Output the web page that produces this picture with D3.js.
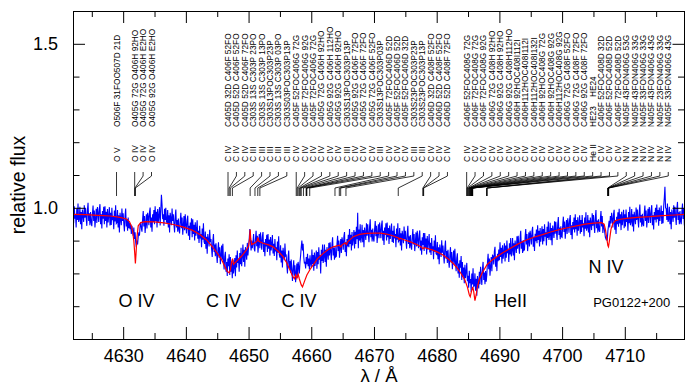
<!DOCTYPE html>
<html>
<head>
<meta charset="utf-8">
<script src="https://d3js.org/d3.v7.min.js"></script>
<style>
  body { margin: 0; background: #fff; }
  svg { display: block; font-family: "Liberation Sans", Arial, Helvetica, sans-serif; }
</style>
</head>
<body>
<script>
// observed spectrum: flux in units of 1/1000, first point at obsStart, one point every obsStep A
const obsStart = 4622.0, obsStep = 0.1;
const obsFlux = [
  990,953,1005,967,980,940,997,963,1013,957,   // 4622
  965,1003,950,987,935,995,977,957,1008,970,   // 4623
  1000,970,945,993,1015,960,983,947,987,955,   // 4624
  944,982,1007,960,992,940,967,997,954,1002,   // 4625
  983,957,997,1011,950,980,937,990,967,1003,   // 4626
  950,1005,960,988,940,996,955,975,1002,946,   // 4627
  985,948,1000,962,975,935,992,958,1008,952,   // 4628
  955,993,940,977,925,985,967,947,998,960,     // 4629
  983,953,928,976,998,943,966,930,970,938,     // 4630
  955,935,950,920,945,930,915,940,905,925,     // 4631
  895,880,900,888,912,925,915,945,955,938,     // 4632
  927,965,990,943,975,923,950,980,937,985,     // 4633
  973,947,987,1001,940,970,927,980,957,993,    // 4634
  950,1005,960,988,940,996,955,975,1002,946,   // 4635
  990,1040,1010,965,980,945,997,963,1000,957,  // 4636
  955,993,940,977,925,985,967,947,998,960,     // 4637
  980,950,925,973,995,940,963,927,967,935,     // 4638
  922,960,985,938,970,918,945,975,932,980,     // 4639
  948,922,962,976,915,945,902,955,932,968,     // 4640
  910,965,920,948,900,956,915,935,962,906,     // 4641
  930,893,945,907,920,880,937,903,953,897,     // 4642
  890,928,875,912,860,920,902,882,933,895,     // 4643
  905,875,850,898,920,865,888,852,892,860,     // 4644
  832,870,895,848,880,828,855,885,842,890,     // 4645
  838,812,852,866,805,835,792,845,822,858,     // 4646
  795,850,805,833,785,841,800,820,847,791,     // 4647
  855,818,870,832,845,805,862,828,878,822,     // 4648
  850,888,835,872,820,880,862,842,893,855,     // 4649
  880,905,935,898,870,900,877,893,920,875,     // 4650
  867,905,930,883,915,863,890,920,877,925,     // 4651
  898,872,912,926,865,895,852,905,882,918,     // 4652
  865,920,875,903,855,911,870,890,917,861,     // 4653
  890,853,905,867,880,840,897,863,913,857,     // 4654
  848,886,833,870,818,878,860,840,891,853,     // 4655
  855,825,800,848,870,815,838,802,842,810,     // 4656
  777,815,840,793,825,773,800,830,787,835,     // 4657
  820,800,835,855,880,900,870,890,850,830,     // 4658
  835,815,850,828,860,822,845,812,855,830,     // 4659
  818,873,828,856,808,864,823,843,870,814,     // 4660
  865,828,880,842,855,800,872,838,888,832,     // 4661
  850,888,835,872,820,880,862,842,893,855,     // 4662
  895,865,840,888,910,855,878,842,882,850,     // 4663
  852,890,915,868,900,848,875,905,862,910,     // 4664
  898,872,912,926,865,895,852,905,882,918,     // 4665
  880,935,890,918,870,926,885,905,932,876,     // 4666
  927,890,942,904,985,877,934,900,950,894,     // 4667
  910,948,895,932,880,940,922,902,953,915,     // 4668
  950,920,895,943,965,910,933,897,937,905,     // 4669
  897,935,960,913,945,893,920,950,907,955,     // 4670
  933,907,947,961,900,930,887,940,917,953,     // 4671
  900,955,910,938,890,946,905,925,952,896,     // 4672
  930,893,945,907,920,880,937,903,953,897,     // 4673
  900,938,885,922,870,930,912,892,943,905,     // 4674
  930,900,875,923,945,890,913,877,917,885,     // 4675
  872,910,935,888,920,868,895,925,882,930,     // 4676
  903,877,917,931,870,900,857,910,887,923,     // 4677
  868,923,878,906,858,914,873,893,920,864,     // 4678
  893,856,908,870,883,843,900,866,916,860,     // 4679
  858,896,843,880,828,888,870,850,901,863,     // 4680
  885,855,830,878,900,845,868,832,872,840,     // 4681
  817,855,880,833,865,813,840,870,827,875,     // 4682
  833,807,847,861,800,830,787,840,817,853,     // 4683
  780,835,790,818,770,826,785,805,832,776,     // 4684
  793,756,808,770,783,743,800,766,816,760,     // 4685
  762,800,747,784,732,792,774,754,805,767,     // 4686
  820,790,765,813,835,780,803,767,807,775,     // 4687
  797,835,860,813,845,793,820,850,807,855,     // 4688
  853,827,867,881,820,850,807,860,837,873,     // 4689
  840,895,850,878,830,886,845,865,892,836,     // 4690
  885,848,900,862,875,835,892,858,908,852,     // 4691
  870,908,855,892,840,900,882,862,913,875,     // 4692
  915,885,860,908,930,875,898,862,902,870,     // 4693
  872,910,935,888,920,868,895,925,882,930,     // 4694
  914,888,928,942,881,911,868,921,898,934,     // 4695
  892,947,902,930,882,938,897,917,944,888,     // 4696
  935,898,950,912,925,885,942,908,958,902,     // 4697
  916,954,901,938,886,946,928,908,959,921,     // 4698
  957,927,902,950,972,917,940,904,944,912,     // 4699
  910,948,973,926,958,906,933,963,920,968,     // 4700
  950,924,964,978,917,947,904,957,934,970,     // 4701
  925,980,935,963,915,971,930,950,977,921,     // 4702
  963,926,978,940,953,913,970,936,986,930,     // 4703
  940,978,925,962,910,970,952,932,983,945,     // 4704
  978,948,923,971,993,938,961,925,965,933,     // 4705
  927,965,990,943,975,923,950,940,925,910,     // 4706
  905,915,900,930,945,960,940,975,952,985,     // 4707
  966,940,980,994,933,963,920,973,950,986,     // 4708
  942,997,952,980,932,988,947,967,994,938,     // 4709
  980,943,995,957,970,930,987,953,1003,947,    // 4710
  958,996,943,980,928,988,970,950,1001,963,    // 4711
  995,965,940,988,1010,955,978,942,982,950,    // 4712
  944,982,1007,960,992,940,967,997,954,1002,   // 4713
  980,954,994,1008,947,977,934,987,964,1000,   // 4714
  955,1010,965,993,945,1001,960,980,1007,951,  // 4715
  990,953,1005,1030,1064,1000,997,963,1013,957,// 4716
  965,1003,950,987,935,995,977,957,1008,970,   // 4717
  1003,973,948,996,1018,963,986,950,990,958,   // 4718
  950,988,1013,966,998,946                     // 4719
];

// model spectrum
const modelWave = [
  4622.0, 4624.0, 4626.0, 4628.0, 4629.5, 4630.5, 4631.0, 4631.3, 4631.5, 4631.7,
  4631.85, 4631.95, 4632.05, 4632.2, 4632.4, 4632.8, 4633.5, 4635.0, 4636.5, 4638.0,
  4639.5, 4641.0, 4642.3, 4643.3, 4644.2, 4645.0, 4645.7, 4646.2, 4646.6, 4646.9,
  4647.1, 4647.3, 4647.45, 4647.6, 4648.0, 4648.9, 4649.6, 4650.0, 4650.15, 4650.25,
  4650.35, 4650.5, 4651.0, 4651.35, 4651.5, 4651.65, 4652.3, 4653.2, 4653.9, 4654.8,
  4655.5, 4656.1, 4656.6, 4657.0, 4657.3, 4657.5, 4657.7, 4657.9, 4658.1, 4658.4,
  4658.6, 4658.9, 4659.3, 4659.8, 4660.3, 4661.0, 4661.9, 4662.7, 4663.5, 4664.5,
  4664.7, 4664.9, 4665.4, 4665.6, 4665.8, 4666.7, 4667.7, 4668.8, 4670.0, 4671.0,
  4672.0, 4673.1, 4673.9, 4674.0, 4674.15, 4675.0, 4675.7, 4676.8, 4677.6, 4677.8,
  4678.0, 4679.4, 4680.2, 4681.0, 4681.8, 4682.6, 4683.2, 4683.7, 4684.1, 4684.5,
  4684.9, 4685.2, 4685.35, 4685.55, 4685.75, 4685.9, 4686.1, 4686.3, 4686.5, 4686.8,
  4687.2, 4688.0, 4688.8, 4689.6, 4690.6, 4691.7, 4693.0, 4694.3, 4695.6, 4697.0,
  4698.3, 4699.7, 4701.0, 4702.3, 4703.7, 4705.0, 4706.3, 4706.7, 4706.9, 4707.1,
  4707.3, 4707.4, 4707.55, 4707.8, 4708.1, 4708.5, 4709.3, 4710.3, 4712.0, 4714.0,
  4716.0, 4718.0, 4719.6
];
const modelFlux = [
  0.980, 0.979, 0.977, 0.975, 0.971, 0.966, 0.958, 0.945, 0.930, 0.900,
  0.860, 0.830, 0.860, 0.910, 0.945, 0.955, 0.958, 0.957, 0.954, 0.949,
  0.942, 0.932, 0.918, 0.902, 0.882, 0.862, 0.842, 0.822, 0.806, 0.802,
  0.810, 0.835, 0.845, 0.828, 0.835, 0.853, 0.870, 0.883, 0.905, 0.934,
  0.905, 0.888, 0.893, 0.898, 0.910, 0.898, 0.892, 0.887, 0.881, 0.866,
  0.851, 0.832, 0.810, 0.792, 0.784, 0.795, 0.785, 0.798, 0.783, 0.765,
  0.759, 0.775, 0.795, 0.812, 0.826, 0.845, 0.861, 0.873, 0.881, 0.886,
  0.881, 0.887, 0.893, 0.888, 0.896, 0.912, 0.919, 0.922, 0.923, 0.923,
  0.920, 0.914, 0.908, 0.903, 0.907, 0.901, 0.897, 0.888, 0.880, 0.875,
  0.879, 0.871, 0.864, 0.856, 0.845, 0.831, 0.818, 0.805, 0.793, 0.780,
  0.758, 0.735, 0.729, 0.745, 0.759, 0.745, 0.717, 0.735, 0.760, 0.782,
  0.800, 0.826, 0.840, 0.851, 0.864, 0.876, 0.890, 0.902, 0.911, 0.919,
  0.927, 0.934, 0.940, 0.945, 0.950, 0.953, 0.955, 0.950, 0.935, 0.910,
  0.885, 0.881, 0.900, 0.935, 0.952, 0.961, 0.965, 0.968, 0.971, 0.973,
  0.976, 0.978, 0.980
];

// line identifications
const lineWave = [
  4628.94, 4631.84, 4631.89, 4631.94,
  4646.72, 4646.90, 4647.08, 4647.42, 4650.25, 4651.02, 4651.47, 4651.80,
  4657.60, 4657.75, 4657.90, 4658.10, 4658.25, 4658.40, 4658.75,
  4659.18, 4659.24, 4659.30, 4659.75, 4663.78, 4664.47, 4664.69, 4665.53,
  4673.87, 4677.80, 4677.86, 4677.92,
  4684.78, 4684.86, 4684.94, 4685.10, 4685.16, 4685.22, 4685.34, 4685.40,
  4685.46, 4685.54, 4685.58, 4685.62, 4685.66, 4685.69, 4685.72, 4685.74,
  4687.96, 4688.00, 4688.04,
  4707.28, 4707.31, 4707.34, 4707.37, 4707.40, 4707.43
];
const lineIon = [
  "O V", "O IV", "O IV", "O IV",
  "C IV", "C IV", "C IV", "C III", "C III", "C III", "C III", "C III",
  "C IV", "C IV", "C IV", "C IV", "C IV", "C IV", "C III",
  "C IV", "C IV", "C IV", "C III", "C IV", "C IV", "C IV", "C III",
  "C III", "C IV", "C IV", "C IV",
  "C IV", "C IV", "C IV", "C IV", "C IV", "C IV", "C IV", "C IV",
  "C IV", "C IV", "C IV", "C IV", "C IV", "C IV", "C IV", "He II",
  "C IV", "C IV", "C IV",
  "N IV", "N IV", "N IV", "N IV", "N IV", "N IV"
];
const lineId = [
  "O506F 31FOO507D 21D", "O405G 72G O406H 92HO", "O405G 72G O406H E2HO", "O405G 92G O406H E2HO",
  "C405D 32D C406F 52FO", "C405D 52D C406F 52FO", "C405D 52D C406F 72FO",
  "C303S 13S C303P 23PO", "C303S 13S C303P 13PO", "C303S13POC303P23P",
  "C303S 13S C303P 03PO", "C303S03POC303P13P",
  "C405F 52FOC406G 72G", "C405F 72FOC406G 92G", "C405F 72FOC406G 72G",
  "C405G 72G C406H 92HO", "C405G 92G C406H 112HO", "C405G 92G C406H 92HO",
  "C303S13POC303P13P",
  "C405G 92G C406F 72FO", "C405G 72G C406F 72FO", "C405G 72G C406F 52FO",
  "C303S13POC303P03P",
  "C405F 72FOC406D 52D", "C405F 52FOC406D 52D", "C405F 52FOC406D 32D",
  "C303S23POC303P23P", "C303S23POC303P13P",
  "C406D 32D C408F 52FO", "C406D 52D C408F 52FO", "C406D 52D C408F 72FO",
  "C406F 52FOC408G 72G", "C406F 72FOC408G 72G", "C406F 72FOC408G 92G",
  "C406G 72G C408H 92HO", "C406G 92G C408H 92HO", "C406G 92G C408H112HO",
  "C406H 92HOC408I112I", "C406H112HOC408I112I", "C406H112HOC408I132I",
  "C406H 92HOC408G 72G", "C406H 92HOC408G 92G", "C406H112HOC408G 92G",
  "C406G 72G C408F 52FO", "C406G 72G C408F 72FO", "C406G 92G C408F 72FO",
  "HE23    HE24",
  "C406F 52FOC408D 32D", "C406F 52FOC408D 52D", "C406F 72FOC408D 52D",
  "N405F 43FON406G 53G", "N405F 43FON406G 33G", "N405F 33FON406G 33G",
  "N405F 43FON406G 43G", "N405F 23FON406G 33G", "N405F 33FON406G 43G"
];

// text placed inside the plot
const noteText = ["O IV", "C IV", "C IV", "HeII", "N IV"];
const noteWave = [4632.13, 4646.0, 4658.04, 4691.77, 4707.0];
const noteFlux = [0.698, 0.698, 0.698, 0.698, 0.800];
const starName = "PG0122+200", starWave = 4711.1, starFlux = 0.698;

// axis ticks
const xMajor = [4630, 4640, 4650, 4660, 4670, 4680, 4690, 4700, 4710];
const xMinor = [4625, 4635, 4645, 4655, 4665, 4675, 4685, 4695, 4705, 4715];
const yMajor = [1.0, 1.5];
const yMinor = [0.7, 0.8, 0.9, 1.1, 1.2, 1.3, 1.4];

const width = 685, height = 387;
const plotL = 73, plotR = 685, plotT = 11, plotB = 339;

const x = d3.scaleLinear().domain([4622, 4719.6]).range([plotL, plotR]);
const y = d3.scaleLinear().domain([0.6, 1.6]).range([plotB, plotT]);

const svg = d3.select("body").append("svg")
    .attr("width", width)
    .attr("height", height);

svg.append("clipPath").attr("id", "plot")
  .append("rect")
    .attr("x", plotL).attr("y", plotT)
    .attr("width", plotR - plotL).attr("height", plotB - plotT);

// spectra
const obs = obsFlux.map((v, i) => [obsStart + i * obsStep, v / 1000]);
const model = modelWave.map((w, i) => [w, modelFlux[i]]);

const line = d3.line()
    .x(d => x(d[0]))
    .y(d => y(d[1]));

svg.append("path")
    .datum(obs)
    .attr("clip-path", "url(#plot)")
    .attr("fill", "none")
    .attr("stroke", "#0000ff")
    .attr("stroke-width", 1.1)
    .attr("d", line);

svg.append("path")
    .datum(model)
    .attr("clip-path", "url(#plot)")
    .attr("fill", "none")
    .attr("stroke", "#ff0000")
    .attr("stroke-width", 1.2)
    .attr("d", line);

// axes, ticks pointing inwards
function styleAxis(g) {
  g.select(".domain").remove();
  g.attr("font-family", null).attr("font-size", 18);
  g.selectAll("text").attr("fill", "#000");
}

svg.append("g")
    .attr("transform", `translate(0,${plotB})`)
    .call(d3.axisBottom(x).tickValues(xMajor).tickSize(-12).tickPadding(10).tickFormat(d3.format("d")))
    .call(styleAxis);
svg.append("g")
    .attr("transform", `translate(0,${plotB})`)
    .call(d3.axisBottom(x).tickValues(xMinor).tickSize(-6).tickFormat(""))
    .call(styleAxis);
svg.append("g")
    .attr("transform", `translate(0,${plotT})`)
    .call(d3.axisTop(x).tickValues(xMajor).tickSize(-12).tickFormat(""))
    .call(styleAxis);
svg.append("g")
    .attr("transform", `translate(0,${plotT})`)
    .call(d3.axisTop(x).tickValues(xMinor).tickSize(-6).tickFormat(""))
    .call(styleAxis);

svg.append("g")
    .attr("transform", `translate(${plotL},0)`)
    .call(d3.axisLeft(y).tickValues(yMajor).tickSize(-12).tickPadding(15).tickFormat(d3.format(".1f")))
    .call(styleAxis);
svg.append("g")
    .attr("transform", `translate(${plotL},0)`)
    .call(d3.axisLeft(y).tickValues(yMinor).tickSize(-6.5).tickFormat(""))
    .call(styleAxis);
svg.append("g")
    .attr("transform", `translate(${plotR - 0.5},0)`)
    .call(d3.axisRight(y).tickValues(yMajor).tickSize(-12).tickFormat(""))
    .call(styleAxis);
svg.append("g")
    .attr("transform", `translate(${plotR - 0.5},0)`)
    .call(d3.axisRight(y).tickValues(yMinor).tickSize(-6.5).tickFormat(""))
    .call(styleAxis);

svg.append("rect")
    .attr("x", plotL + 0.5).attr("y", plotT + 0.5)
    .attr("width", plotR - plotL - 1).attr("height", plotB - plotT)
    .attr("fill", "none")
    .attr("stroke", "#000")
    .attr("stroke-width", 1);

// axis titles
svg.append("text")
    .attr("transform", `translate(25,${(plotT + plotB) / 2 + 10}) rotate(-90)`)
    .attr("text-anchor", "middle")
    .attr("font-size", 19.5)
    .text("relative flux");

svg.append("text")
    .attr("x", (plotL + plotR) / 2)
    .attr("y", 382)
    .attr("text-anchor", "middle")
    .attr("font-size", 18.5)
    .text("λ / Å");

// line identification marks: labels pushed to the right so they never overlap
const labelGap = 8.4;
const ids = [];
lineWave.forEach((w, i) => {
  const lx = x(w);
  const px = i === 0 ? lx : Math.max(lx, ids[i - 1].px + labelGap);
  ids.push({ lx: lx, px: px, ion: lineIon[i], id: lineId[i] });
});

const idG = svg.append("g");

idG.selectAll("path")
  .data(ids)
  .enter()
  .append("path")
    .attr("d", d => `M${d.px},172V176L${d.lx},188V196`)
    .attr("fill", "none")
    .attr("stroke", "#000")
    .attr("stroke-width", 0.8);

idG.selectAll("text.ion")
  .data(ids)
  .enter()
  .append("text")
    .attr("class", "ion")
    .attr("transform", d => `translate(${d.px + 3},162) rotate(-90)`)
    .attr("font-size", 8.5)
    .text(d => d.ion);

idG.selectAll("text.id")
  .data(ids)
  .enter()
  .append("text")
    .attr("class", "id")
    .attr("transform", d => `translate(${d.px + 3},127) rotate(-90)`)
    .attr("font-size", 8.3)
    .style("white-space", "pre")
    .text(d => d.id);

// labels inside the plot
svg.selectAll("text.note")
  .data(noteText)
  .enter()
  .append("text")
    .attr("class", "note")
    .attr("x", (d, i) => x(noteWave[i]))
    .attr("y", (d, i) => y(noteFlux[i]))
    .attr("text-anchor", "middle")
    .attr("font-size", 18)
    .text(d => d);

svg.append("text")
    .attr("x", x(starWave))
    .attr("y", y(starFlux))
    .attr("text-anchor", "middle")
    .attr("font-size", 13)
    .text(starName);
</script>
</body>
</html>
